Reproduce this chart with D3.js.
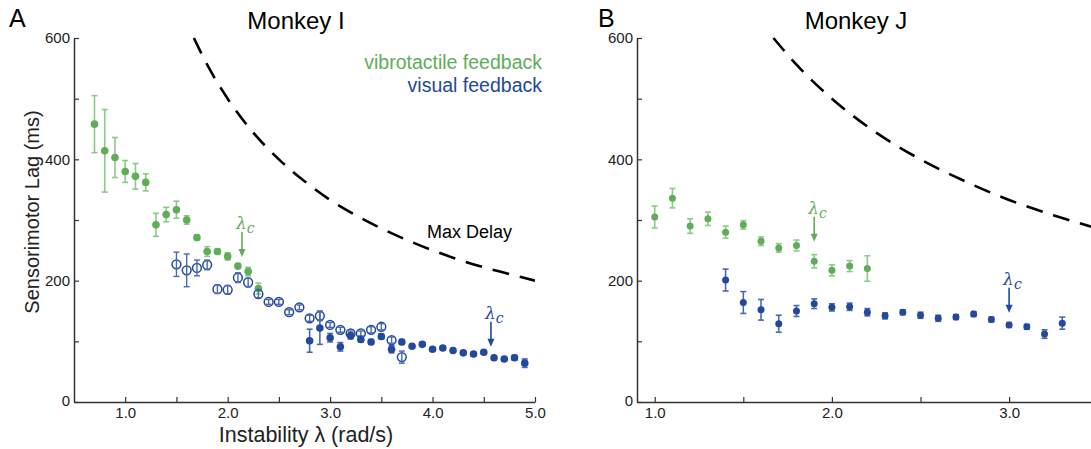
<!DOCTYPE html>
<html>
<head>
<meta charset="utf-8">
<script src="https://cdn.jsdelivr.net/npm/d3@7/dist/d3.min.js"></script>
<style>
  html, body { margin: 0; padding: 0; background: #fff; }
  svg { display: block; font-family: "Liberation Sans", Arial, sans-serif; }
</style>
</head>
<body>
<svg id="chart" width="1091" height="449"></svg>
<script>
// ---- Monkey I : vibrotactile feedback (filled green) ----
const iVibroLambda = [0.7, 0.8, 0.9, 1.0, 1.1, 1.2, 1.3, 1.4, 1.5, 1.6, 1.7, 1.8, 1.9, 2.0, 2.1, 2.2, 2.3];
const iVibroLag    = [458, 414, 403, 380, 372, 362, 292, 309, 317, 300, 271, 248, 248, 240, 224, 215, 187];
const iVibroErr    = [47, 68, 33, 18, 21, 14, 19, 12, 14, 7, 4, 8, 4, 6, 4, 7, 9];

// ---- Monkey I : visual feedback, open markers ----
const iVisOpenLambda = [1.5, 1.6, 1.7, 1.8, 1.9, 2.0, 2.1, 2.2, 2.3, 2.4, 2.5, 2.6, 2.7, 2.8, 2.9, 3.0, 3.1, 3.2, 3.3, 3.4, 3.5, 3.6, 3.7];
const iVisOpenLag    = [227, 217, 221, 226, 186, 185, 205, 197, 178, 165, 165, 148, 156, 138, 142, 127, 119, 113, 113, 119, 124, 102, 74];
const iVisOpenErr    = [20, 27, 13, 8, 7, 7, 8, 7, 6, 4, 4, 4, 4, 5, 8, 4, 4, 4, 4, 5, 5, 5, 10];

// ---- Monkey I : visual feedback, filled markers ----
const iVisLambda = [2.8, 2.9, 3.0, 3.1, 3.2, 3.3, 3.4, 3.5, 3.6, 3.7, 3.8, 3.9, 4.0, 4.1, 4.2, 4.3, 4.4, 4.5, 4.6, 4.7, 4.8, 4.9];
const iVisLag    = [101, 122, 106, 91, 109, 103, 99, 108, 87, 99, 92, 95, 87, 89, 85, 81, 79, 82, 73, 71, 73, 64];
const iVisErr    = [19, 27, 7, 7, 5, 4, 4, 4, 6, 4, 3, 3, 3, 3, 3, 3, 3, 3, 3, 3, 4, 7];

// ---- Monkey J : vibrotactile feedback ----
const jVibroLambda = [1.0, 1.1, 1.2, 1.3, 1.4, 1.5, 1.6, 1.7, 1.8, 1.9, 2.0, 2.1, 2.2];
const jVibroLag    = [305, 336, 290, 302, 280, 292, 265, 254, 258, 232, 217, 224, 220];
const jVibroErr    = [18, 16, 12, 11, 10, 7, 7, 7, 9, 11, 9, 9, 21];

// ---- Monkey J : visual feedback ----
const jVisLambda = [1.4, 1.5, 1.6, 1.7, 1.8, 1.9, 2.0, 2.1, 2.2, 2.3, 2.4, 2.5, 2.6, 2.7, 2.8, 2.9, 3.0, 3.1, 3.2, 3.3];
const jVisLag    = [201, 164, 152, 129, 150, 162, 156, 157, 148, 142, 148, 143, 138, 140, 145, 136, 127, 124, 112, 130];
const jVisErr    = [18, 18, 17, 14, 9, 8, 6, 6, 6, 5, 4, 5, 5, 4, 4, 4, 4, 4, 7, 10];

// ---- Maximum tolerable delay curve ----
const maxDelayLambda = [1.67, 1.8, 2.0, 2.25, 2.5, 2.75, 3.0, 3.25, 3.5, 3.75, 4.0, 4.25, 4.5, 4.75, 5.0];
const maxDelayLag    = [600, 556, 500, 444, 400, 364, 333, 308, 286, 267, 250, 235, 222, 211, 200];

// ---- Critical instability markers: [lambda, lag at arrow tip] ----
const iCritVibro = [2.14, 239];
const iCritVis   = [4.57, 91];
const jCritVibro = [1.9, 264];
const jCritVis   = [3.0, 147];

// ---- Axis ticks ----
const yTickValues  = [0, 100, 200, 300, 400, 500, 600];
const yLabelValues = [0, 200, 400, 600];
const iXTicks  = [1.0, 1.5, 2.0, 2.5, 3.0, 3.5, 4.0, 4.5, 5.0];
const jXTicks  = [1.0, 1.5, 2.0, 2.5, 3.0, 3.5];

const GREEN = "#5fae57", GREEN_ERR = "#8fc889";
const BLUE = "#23489c", BLUE_ERR = "#4a69b0";
const AXIS = "#333";

const svg = d3.select("#chart");
const zip = (xs, ys, es) => xs.map((x, i) => ({ x, y: ys[i], e: es ? es[i] : 0 }));

function panel(opts) {
  const g = svg.append("g");
  const sx = d3.scaleLinear().domain(opts.xDomain).range(opts.xRange);
  const sy = d3.scaleLinear().domain([0, 600]).range([402, 38]);
  const x0 = opts.xRange[0];

  // y axis: minor ticks every 100, labels every 200
  const yAx = d3.axisLeft(sy).tickValues(yTickValues).tickSizeInner(-5).tickSizeOuter(0).tickPadding(4)
    .tickFormat(d => yLabelValues.includes(d) ? d3.format("d")(d) : "");
  const yg = g.append("g").attr("transform", `translate(${x0},0)`).call(yAx);

  const xAx = d3.axisBottom(sx).tickValues(opts.xTicks).tickSizeInner(-5).tickSizeOuter(0).tickPadding(5)
    .tickFormat(d => Number.isInteger(d) ? d3.format(".1f")(d) : "");
  const xg = g.append("g").attr("transform", `translate(0,402)`).call(xAx);

  [yg, xg].forEach(a => {
    a.select(".domain").attr("stroke", AXIS).attr("stroke-width", 1.5);
    a.selectAll(".tick line").attr("stroke", AXIS).attr("stroke-width", 1.2);
    a.selectAll(".tick text").attr("fill", "#222").style("font-size", "15px")
      .style("font-family", "'Liberation Sans', Arial, sans-serif");
  });
  // "0" sits level with the x axis
  yg.selectAll(".tick text").filter(d => d === 0).attr("dy", "0.2em");

  // dashed Max Delay curve
  const line = d3.line().x(d => sx(d.x)).y(d => sy(d.y)).curve(d3.curveMonotoneX);
  const clipId = "clip" + opts.id;
  g.append("clipPath").attr("id", clipId).append("rect")
    .attr("x", x0).attr("y", 0).attr("width", opts.xRange[1] - x0).attr("height", 402);
  g.append("path").datum(zip(maxDelayLambda, maxDelayLag))
    .attr("clip-path", `url(#${clipId})`)
    .attr("d", line).attr("fill", "none").attr("stroke", "#000")
    .attr("stroke-width", 2.6).attr("stroke-dasharray", "17,11");

  function errorBars(data, color, width) {
    const eg = g.append("g").attr("stroke", color).attr("stroke-width", width);
    eg.selectAll("line.v").data(data).join("line")
      .attr("x1", d => sx(d.x)).attr("x2", d => sx(d.x))
      .attr("y1", d => sy(d.y - d.e)).attr("y2", d => sy(d.y + d.e));
    eg.selectAll("line.t").data(data).join("line")
      .attr("x1", d => sx(d.x) - 3).attr("x2", d => sx(d.x) + 3)
      .attr("y1", d => sy(d.y + d.e)).attr("y2", d => sy(d.y + d.e));
    eg.selectAll("line.b").data(data).join("line")
      .attr("x1", d => sx(d.x) - 3).attr("x2", d => sx(d.x) + 3)
      .attr("y1", d => sy(d.y - d.e)).attr("y2", d => sy(d.y - d.e));
  }
  function dots(data, color, r) {
    g.append("g").selectAll("circle").data(data).join("circle")
      .attr("cx", d => sx(d.x)).attr("cy", d => sy(d.y)).attr("r", r).attr("fill", color);
  }
  function rings(data, color, r) {
    g.append("g").selectAll("circle").data(data).join("circle")
      .attr("cx", d => sx(d.x)).attr("cy", d => sy(d.y)).attr("r", r)
      .attr("fill", "none").attr("stroke", color).attr("stroke-width", 1.5);
  }

  opts.series.forEach(s => {
    const data = zip(s.x, s.y, s.e);
    if (s.open) {
      rings(data, s.color, opts.r + 0.6);
      errorBars(data, s.err, 1.4);
    } else {
      errorBars(data, s.err, 1.6);
      dots(data, s.color, opts.r);
    }
  });

  // critical instability arrows
  opts.crit.forEach(c => {
    const x = sx(c.v[0]), tip = sy(c.v[1]), top = tip - 25;
    const ag = g.append("g").attr("fill", c.color).attr("stroke", c.color);
    ag.append("line").attr("x1", x).attr("x2", x).attr("y1", top).attr("y2", tip - 6).attr("stroke-width", 1.6);
    ag.append("path").attr("stroke", "none")
      .attr("d", `M${x - 3.5},${tip - 8} L${x + 3.5},${tip - 8} L${x},${tip} Z`);
    const t = ag.append("text").attr("stroke", "none").attr("x", x - 6).attr("y", top - 3)
      .style("font-family", "'DejaVu Serif', 'Liberation Serif', serif").style("font-style", "italic")
      .style("font-size", "17px");
    t.append("tspan").text("λ");
    t.append("tspan").attr("dy", 4).style("font-size", "14px").text("c");
  });
  return { sx, sy, g };
}

const left = panel({
  id: "I", xDomain: [0.5, 5.0], xRange: [74, 535], xTicks: iXTicks, r: 3.8,
  series: [
    { x: iVibroLambda, y: iVibroLag, e: iVibroErr, color: GREEN, err: GREEN_ERR },
    { x: iVisOpenLambda, y: iVisOpenLag, e: iVisOpenErr, color: BLUE, err: BLUE_ERR, open: true },
    { x: iVisLambda, y: iVisLag, e: iVisErr, color: BLUE, err: BLUE_ERR }
  ],
  crit: [{ v: iCritVibro, color: GREEN }, { v: iCritVis, color: BLUE }]
});

const right = panel({
  id: "J", xDomain: [0.9, 3.5], xRange: [637, 1097.7], xTicks: jXTicks, r: 3.5,
  series: [
    { x: jVibroLambda, y: jVibroLag, e: jVibroErr, color: GREEN, err: GREEN_ERR },
    { x: jVisLambda, y: jVisLag, e: jVisErr, color: BLUE, err: BLUE_ERR }
  ],
  crit: [{ v: jCritVibro, color: GREEN }, { v: jCritVis, color: BLUE }]
});

// panel letters and titles
const txt = (x, y, s, size, anchor, fill) => svg.append("text").attr("x", x).attr("y", y)
  .attr("text-anchor", anchor || "start").attr("fill", fill || "#000").style("font-size", size + "px").text(s);

txt(9, 27, "A", 25);
txt(598, 27, "B", 25);
txt(296, 29, "Monkey I", 24, "middle");
txt(856, 29, "Monkey J", 24, "middle");

// legend
txt(542, 69, "vibrotactile feedback", 19.5, "end", GREEN);
txt(542, 92, "visual feedback", 19.5, "end", BLUE);

// curve label
txt(427, 238, "Max Delay", 18);

// axis titles
txt(306, 442, "Instability λ (rad/s)", 21.5, "middle", "#222");
svg.append("text").attr("transform", "translate(39,212) rotate(-90)")
  .attr("text-anchor", "middle").attr("fill", "#222").style("font-size", "20px")
  .text("Sensorimotor Lag (ms)");
</script>
</body>
</html>
